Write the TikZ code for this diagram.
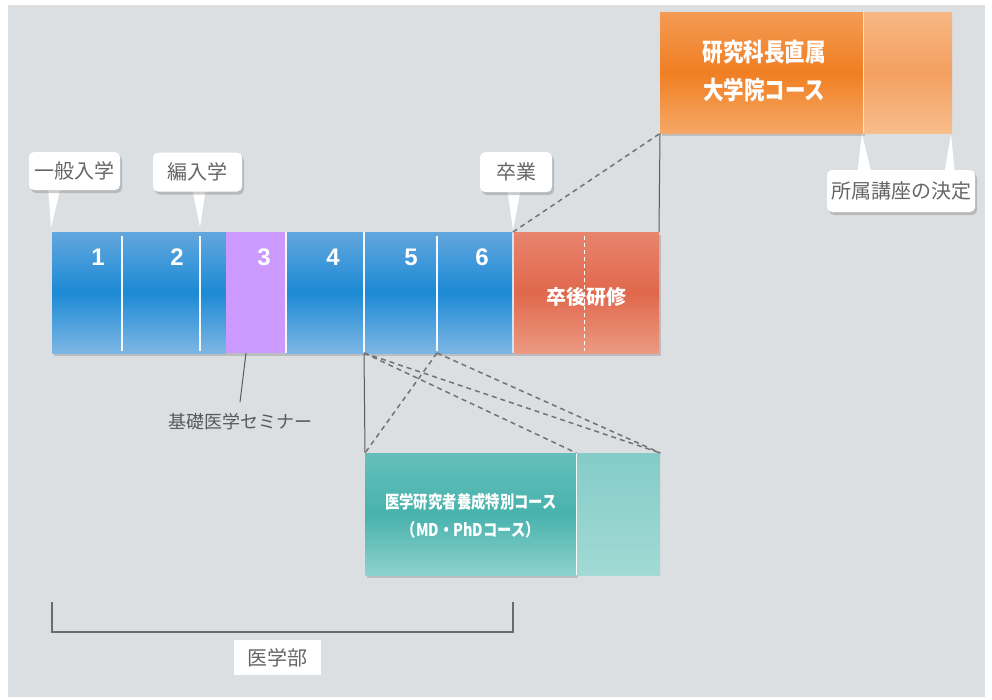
\documentclass[tikz,border=0pt]{standalone}
\usepackage{fontspec}
\newfontfamily\jp{Noto Sans CJK JP}
\newfontfamily\jpc{Noto Sans CJK JP}[FakeStretch=0.82]
\newfontfamily\numfont{Liberation Sans}
\usetikzlibrary{shadows}
\definecolor{bg}{HTML}{DCDFE2}
\definecolor{blueT}{HTML}{62A6DE}
\definecolor{blueM}{HTML}{1C8AD4}
\definecolor{blueB}{HTML}{7DB6E4}
\definecolor{purp}{HTML}{CC99FF}
\definecolor{redT}{HTML}{E8856E}
\definecolor{redM}{HTML}{E0684C}
\definecolor{redB}{HTML}{EC9A82}
\definecolor{orT}{HTML}{F49B55}
\definecolor{orM}{HTML}{F07F22}
\definecolor{orB}{HTML}{F5A866}
\definecolor{orLT}{HTML}{F7B783}
\definecolor{orLM}{HTML}{F4A061}
\definecolor{orLB}{HTML}{F8BE8C}
\definecolor{tlT}{HTML}{64BFBA}
\definecolor{tlM}{HTML}{48B2AD}
\definecolor{tlB}{HTML}{8ED2CD}
\definecolor{tlLT}{HTML}{84CCC7}
\definecolor{tlLB}{HTML}{A2DAD5}
\definecolor{txtgray}{HTML}{666666}
\definecolor{linegray}{HTML}{5A5A5A}
\tikzset{
  segbox/.style={anchor=north west, inner sep=0pt, outer sep=0pt, minimum height=121pt},
  bluebox/.style={segbox, top color=blueT, bottom color=blueB, middle color=blueM},
  callout/.style={fill=white, rounded corners=5pt, inner sep=0pt, text=txtgray,
     font=\jp\fontsize{20}{20}\selectfont,
     drop shadow={opacity=0.4, shadow xshift=2pt, shadow yshift=-3pt}},
  ptr/.style={fill=white},
  numlabel/.style={text=white, font=\numfont\bfseries\fontsize{24}{24}\selectfont},
  divider/.style={draw=white!92!blueT, line width=1.8pt},
  dashconn/.style={draw=linegray!85, line width=1.5pt, dash pattern=on 5pt off 4pt},
  solidconn/.style={draw=linegray, line width=1pt},
  bigshadow/.style={drop shadow={opacity=0.35, shadow xshift=2pt, shadow yshift=-3pt}}
}
\begin{document}
\begin{tikzpicture}[x=1pt,y=-1pt]
\useasboundingbox (0,0) rectangle (992,699);
\fill[white] (0,0) rectangle (992,699);
\fill[bg] (8,5) rectangle (985,697);

% main bar shadow
\fill[bigshadow, fill=bg] (52,232) rectangle (659,353);

% segments
\node[bluebox, minimum width=70pt] (seg1) at (52,232) {};
\node[bluebox, minimum width=78pt] (seg2) at (122,232) {};
\node[bluebox, minimum width=26pt] (seg2b) at (200,232) {};
\node[segbox, fill=purp, minimum width=60pt] (seg3) at (226,232) {};
\node[bluebox, minimum width=78pt] (seg4) at (286,232) {};
\node[bluebox, minimum width=73pt] (seg5) at (364,232) {};
\node[bluebox, minimum width=76pt] (seg6) at (437,232) {};
\node[segbox, top color=redT, bottom color=redB, middle color=redM, minimum width=146pt] (pg) at (513,232) {};

% dividers
\draw[divider] ([yshift=-4pt]seg1.north east) -- ([yshift=2pt]seg1.south east);
\draw[divider] ([yshift=-4pt]seg2.north east) -- ([yshift=2pt]seg2.south east);
\draw[divider] (seg3.north east) -- (seg3.south east);
\draw[divider] (seg4.north east) -- (seg4.south east);
\draw[divider] ([yshift=-4pt]seg5.north east) -- ([yshift=2pt]seg5.south east);
\draw[draw=white!70!blueT, line width=1.2pt] (seg6.north east) -- (seg6.south east);
\draw[white, line width=1pt, dash pattern=on 4pt off 3pt] ([xshift=71pt,yshift=-4pt]pg.north west) -- ([xshift=71pt,yshift=2pt]pg.south west);

% numbers
\node[numlabel] (n1) at (98,257) {1};
\node[numlabel] (n2) at (177,257) {2};
\node[numlabel] (n3) at (264,257) {3};
\node[numlabel] (n4) at (333,257) {4};
\node[numlabel] (n5) at (411,257) {5};
\node[numlabel] (n6) at (482,257) {6};
\node[text=white, font=\jp\bfseries\fontsize{20}{20}\selectfont] (pgt) at (586,297) {卒後研修};

% orange box
\node[anchor=north west, inner sep=0pt, minimum width=203pt, minimum height=121pt,
      top color=orT, bottom color=orB, middle color=orM, bigshadow] (orA) at (660,12) {};
\node[anchor=north west, inner sep=0pt, minimum width=89pt, minimum height=121pt,
      top color=orLT, bottom color=orLB, middle color=orLM] (orBx) at (863,12) {};
\draw[white!60!orLT, line width=1.2pt] (orA.north east) -- (orA.south east);
\node[text=white, align=center, font=\jpc\bfseries\fontsize{25}{38}\selectfont] (orT) at (764,71) {研究科長直属\\大学院コース};

% teal box
\node[anchor=north west, inner sep=0pt, minimum width=211pt, minimum height=122pt,
      top color=tlT, bottom color=tlB, middle color=tlM, bigshadow] (tA) at (365,453) {};
\node[anchor=north west, inner sep=0pt, minimum width=84pt, minimum height=122pt,
      top color=tlLT, bottom color=tlLB] (tB) at (576,453) {};
\draw[white, line width=1.2pt] (tA.north east) -- (tA.south east);
\node[text=white, align=center, font=\jpc\bfseries\fontsize{17.5}{28}\selectfont] (tT) at (471,516) {医学研究者養成特別コース\\（MD・PhDコース）};

% connectors
\draw[dashconn] (seg6.north east) -- (orA.south west);
\draw[solidconn] (pg.north east) -- (orA.south west);
\draw[solidconn] (seg5.south west) -- (tA.north west);
\draw[dashconn] (seg5.south west) -- (tA.north east);
\draw[dashconn] (seg5.south west) -- (tB.north east);
\draw[dashconn] (seg6.south west) -- (tA.north west);
\draw[dashconn] (seg6.south west) -- (tB.north east);

% seminar
\node[text=black!65, font=\jp\fontsize{18}{18}\selectfont] (sem) at (240,422) {基礎医学セミナー};
\draw[solidconn] ([xshift=-10pt]seg3.south) -- ([yshift=8pt]sem.north);

% callouts
\fill[ptr] (48,186) -- (61,186) -- (51,228) -- cycle;
\node[callout, minimum width=91pt, minimum height=38pt] (c1) at (74.5,171) {一般入学};
\fill[ptr] (192,188) -- (206,188) -- (200,227) -- cycle;
\node[callout, minimum width=89pt, minimum height=39pt] (c2) at (197.5,172) {編入学};
\fill[ptr] (507,188) -- (521,188) -- (513,230) -- cycle;
\node[callout, minimum width=72pt, minimum height=40pt] (c3) at (516,172) {卒業};
\fill[ptr] (857,175) -- (872,175) -- (862,134) -- cycle;
\fill[ptr] (944,175) -- (955,175) -- (951,134) -- cycle;
\node[callout, minimum width=148pt, minimum height=42pt] (c4) at (901,191) {所属講座の決定};

% bracket
\draw[linegray!90, line width=1.8pt] ([yshift=-249pt]seg1.south west) -- ([yshift=-279pt]seg1.south west) -- ([yshift=-279pt]seg6.south east) -- ([yshift=-249pt]seg6.south east);
\node[fill=white, text=txtgray, inner sep=0pt, minimum width=87pt, minimum height=35pt, font=\jp\fontsize{20}{20}\selectfont] (med) at (277.5,657.5) {医学部};
\end{tikzpicture}
\end{document}
